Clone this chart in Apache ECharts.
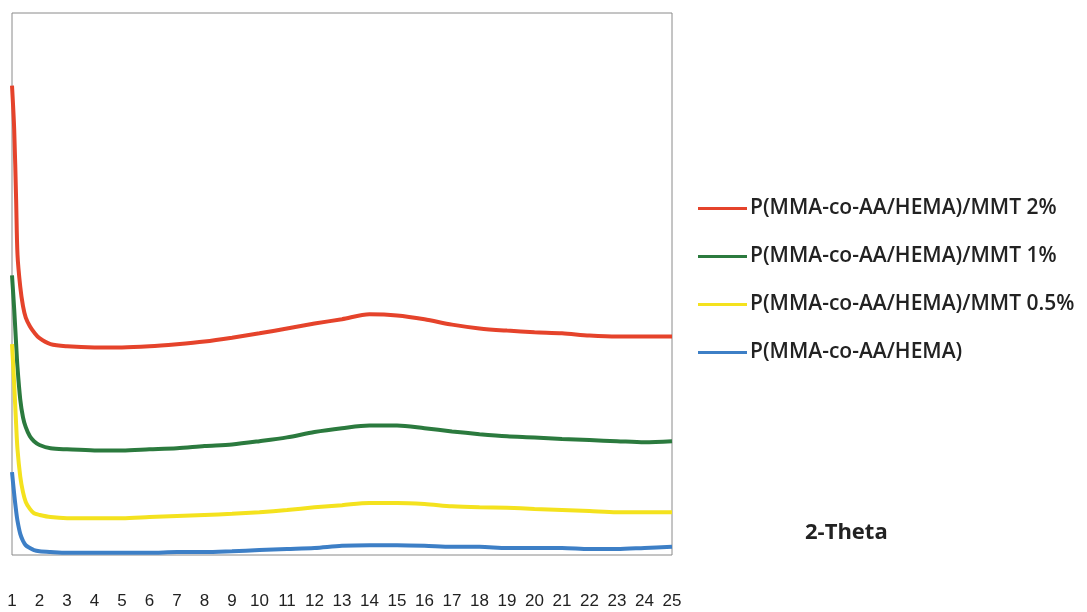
<!DOCTYPE html>
<html>
<head>
<meta charset="utf-8">
<script src="https://cdn.jsdelivr.net/npm/echarts@6/dist/echarts.min.js"></script>
<style>
html,body{margin:0;padding:0;background:#fff;}
#chart{width:1087px;height:612px;}
</style>
</head>
<body>
<div id="chart"></div>
<script>
// 2-Theta sample positions
var theta = [1.0, 1.08, 1.15, 1.2, 1.3, 1.4, 1.5, 1.65, 1.8, 2.0, 2.4, 3, 4, 5, 6, 7, 8, 9, 10, 11, 12, 13, 14, 15, 16, 17, 18, 19, 20, 21, 22, 23, 24, 25];
var tickLabels = ['1','2','3','4','5','6','7','8','9','10','11','12','13','14','15','16','17','18','19','20','21','22','23','24','25'];
var seriesNames = ['P(MMA-co-AA/HEMA)/MMT 2%', 'P(MMA-co-AA/HEMA)/MMT 1%', 'P(MMA-co-AA/HEMA)/MMT 0.5%', 'P(MMA-co-AA/HEMA)'];
var mmt2 = [86.6, 78.5, 65.6, 55.4, 49.5, 45.9, 43.8, 42.2, 41.1, 40.0, 38.9, 38.5, 38.3, 38.3, 38.5, 38.9, 39.4, 40.1, 40.9, 41.8, 42.7, 43.5, 44.4, 44.2, 43.5, 42.5, 41.8, 41.4, 41.1, 40.9, 40.5, 40.3, 40.3, 40.3];
var mmt1 = [51.6, 45.3, 38.9, 34.6, 28.7, 25.4, 23.6, 21.9, 21.0, 20.3, 19.7, 19.5, 19.3, 19.3, 19.5, 19.7, 20.1, 20.4, 21.0, 21.7, 22.7, 23.4, 23.9, 23.9, 23.4, 22.8, 22.3, 21.9, 21.7, 21.4, 21.2, 21.0, 20.8, 21.0];
var mmt05 = [38.9, 31.5, 24.1, 19.5, 14.5, 11.6, 9.8, 8.5, 7.7, 7.4, 7.0, 6.8, 6.8, 6.8, 7.0, 7.2, 7.4, 7.6, 7.9, 8.3, 8.8, 9.2, 9.6, 9.6, 9.4, 9.0, 8.8, 8.7, 8.5, 8.3, 8.1, 7.9, 7.9, 7.9];
var neat = [15.3, 11.2, 8.1, 6.3, 3.9, 2.6, 1.8, 1.3, 0.9, 0.7, 0.55, 0.4, 0.4, 0.4, 0.4, 0.55, 0.55, 0.7, 0.9, 1.1, 1.3, 1.7, 1.8, 1.8, 1.7, 1.5, 1.5, 1.3, 1.3, 1.3, 1.1, 1.1, 1.3, 1.5];
var colors = ['#e5432b', '#2b7a3e', '#f4e21e', '#3d7fc6'];

function pairs(vals){ return theta.map(function(t,i){ return [t, vals[i]]; }); }
var allVals = [mmt2, mmt1, mmt05, neat];

var chart = echarts.init(document.getElementById('chart'), null, {renderer:'canvas'});
chart.setOption({
  backgroundColor: '#ffffff',
  animation: false,
  grid: { left: 12, top: 13, right: 415, bottom: 57, show: true, borderColor: '#8a8a8a', borderWidth: 1, backgroundColor: 'transparent' },
  xAxis: {
    type: 'value', min: 1, max: 25, interval: 1,
    axisLine: { show: false }, axisTick: { show: false }, splitLine: { show: false },
    axisLabel: {
      margin: 38, color: '#222', fontFamily: 'Liberation Sans', fontSize: 17,
      formatter: function(v){ var i = Math.round(v) - 1; return tickLabels[i] || ''; }
    }
  },
  yAxis: {
    type: 'value', min: 0, max: 100,
    axisLine: { show: false }, axisTick: { show: false }, splitLine: { show: false }, axisLabel: { show: false }
  },
  legend: {
    orient: 'vertical', left: 693, top: 193,
    itemWidth: 49, itemHeight: 3, itemGap: 27, icon: 'rect',
    data: seriesNames,
    textStyle: { color: '#222', fontFamily: 'Open Sans', fontWeight: 600, fontSize: 21, padding: [0,0,0,-2] }
  },
  graphic: [
    { type: 'text', left: 805, top: 522, style: { text: '2-Theta', fontFamily: 'Open Sans', fontWeight: 'bold', fontSize: 22, fill: '#222' } }
  ],
  series: seriesNames.map(function(n, i){
    return {
      name: n, type: 'line', data: pairs(allVals[i]), symbol: 'none',
      smooth: 0.3,
      lineStyle: { width: 4, color: colors[i] }, itemStyle: { color: colors[i] }
    };
  })
});
</script>
</body>
</html>
